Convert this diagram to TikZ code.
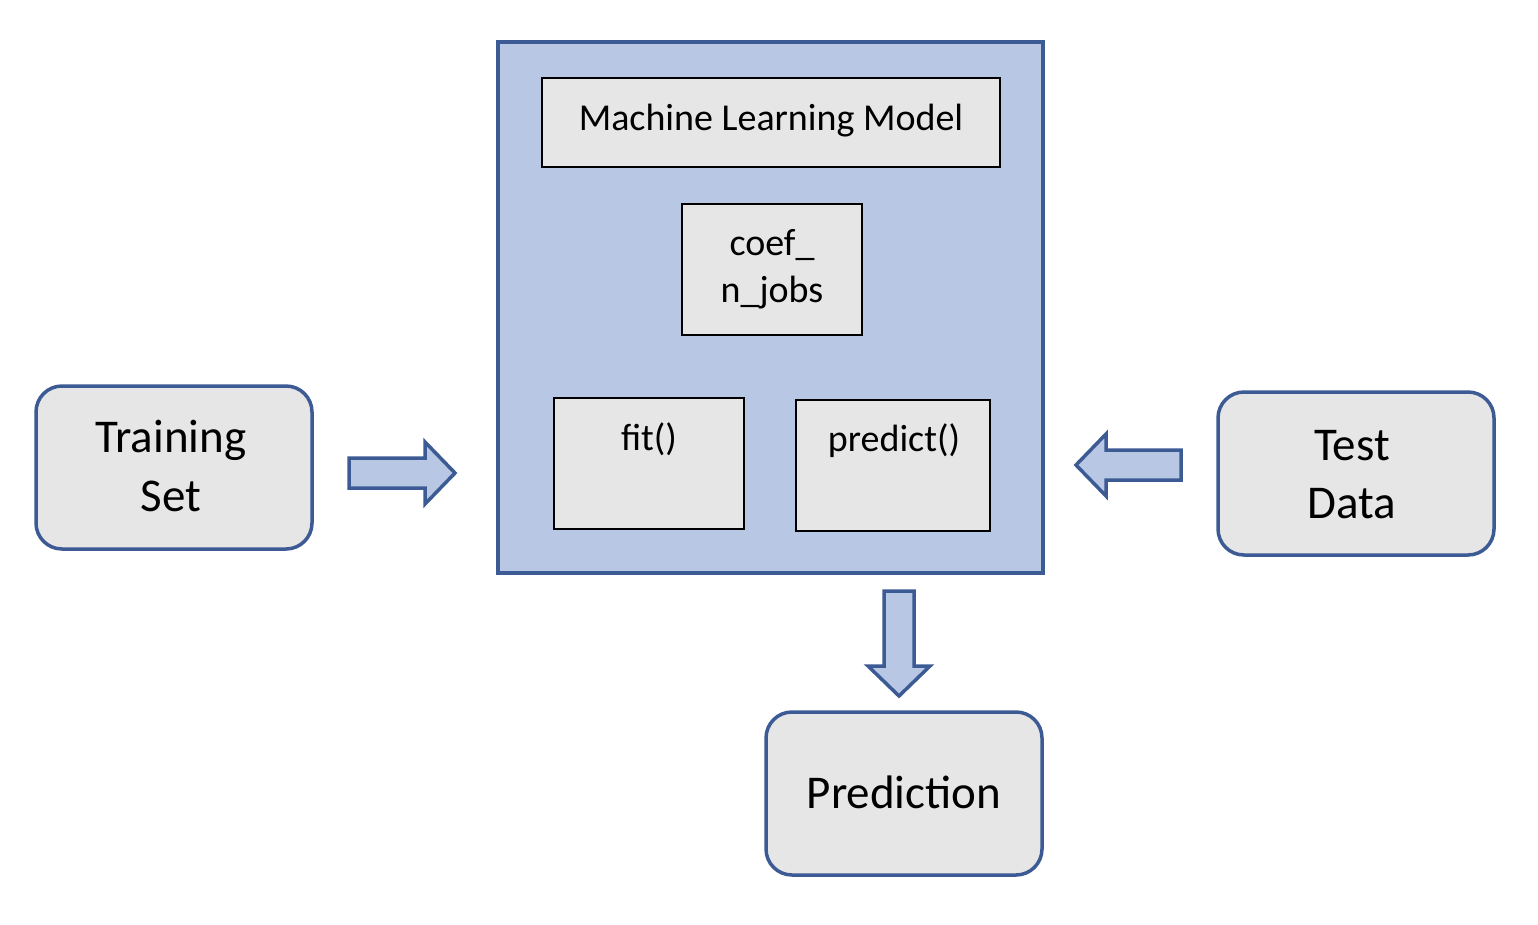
\documentclass[tikz,border=0pt]{standalone}
\usepackage{fontspec}
\setmainfont{Carlito}
\definecolor{boxblue}{HTML}{B8C8E4}
\definecolor{edgeblue}{HTML}{3C5A94}
\definecolor{boxgray}{HTML}{E6E6E6}
\tikzset{
  container/.style={draw=edgeblue, fill=boxblue, line width=3.5pt},
  innerbox/.style={draw=black, fill=boxgray, line width=2pt},
  roundbox/.style={draw=edgeblue, fill=boxgray, line width=3.5pt, rounded corners=26pt},
  blockarrow/.style={draw=edgeblue, fill=boxblue, line width=3.5pt, line join=miter},
  smalltext/.style={font=\fontsize{38}{48}\selectfont},
  bigtext/.style={font=\fontsize{47}{57}\selectfont, align=center},
}
\begin{document}
\begin{tikzpicture}[x=1pt,y=-1pt]
\useasboundingbox (0,0) rectangle (1538,924);
% container
\draw[container] (498,42) rectangle (1043,573);
% inner boxes
\draw[innerbox] (542,78) rectangle (1000,167);
\node[smalltext] (ml) at (771,121) {Machine Learning Model};
\draw[innerbox] (682,204) rectangle (862,335);
\node[smalltext] (coef) at (772,245) {coef\_};
\node[smalltext] (njobs) at (772,293) {n\_jobs};
\draw[innerbox] (554,398) rectangle (744,529);
\node[smalltext] (fit) at (649,439) {fit()};
\draw[innerbox] (796,400) rectangle (990,531);
\node[smalltext] (pred) at (894,441) {predict()};
% rounded boxes
\draw[roundbox] (36,386) rectangle (312,549);
\node[bigtext] (train) at (171,440) {Training};
\node[bigtext] (set) at (171,496) {Set};
\draw[roundbox] (1218,392) rectangle (1494,555);
\node[bigtext] (test) at (1352,446) {Test};
\node[bigtext] (data) at (1352,504) {Data};
\draw[roundbox] (766,712) rectangle (1042,875);
\node[bigtext] (prediction) at (904,792) {Prediction};
% block arrows
\draw[blockarrow] (349,458) -- (425,458) -- (425,442) -- (455,473) -- (425,504) -- (425,488) -- (349,488) -- cycle;
\draw[blockarrow] (1181,450) -- (1106,450) -- (1106,434) -- (1076,465) -- (1106,496) -- (1106,480) -- (1181,480) -- cycle;
\draw[blockarrow] (884,591) -- (914,591) -- (914,666) -- (930,666) -- (899,696) -- (868,666) -- (884,666) -- cycle;
\end{tikzpicture}
\end{document}
